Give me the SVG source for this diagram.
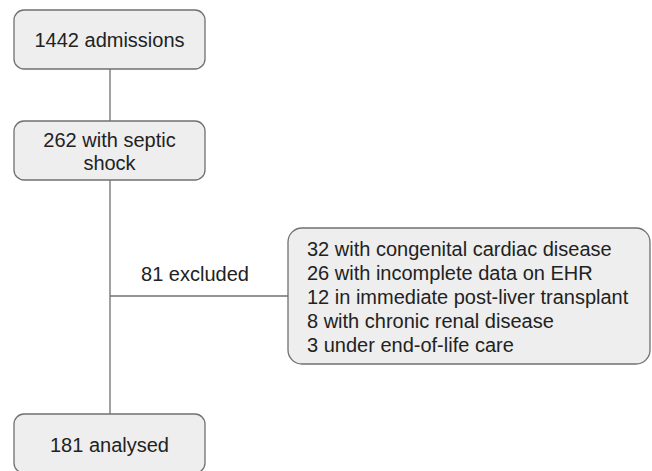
<svg xmlns="http://www.w3.org/2000/svg" width="652" height="471" viewBox="0 0 652 471">
<style>
.box{fill:#eeeeee;stroke:#707070;stroke-width:1.3}
.t{font-family:"Liberation Sans",Arial,sans-serif;font-size:20px;fill:#222}
.c{text-anchor:middle}
.ln{stroke:#707070;stroke-width:1.3;fill:none}
</style>
<rect width="652" height="471" fill="#ffffff"/>
<g id="connectors">
<line class="ln" x1="110" y1="69" x2="110" y2="121"/>
<line class="ln" x1="110" y1="180" x2="110" y2="414"/>
<line class="ln" x1="110" y1="296" x2="288" y2="296"/>
<text class="t c" x="195" y="281">81 excluded</text>
</g>
<g id="n1">
<rect class="box" x="14" y="10" width="191" height="59" rx="10"/>
<text class="t c" x="109.5" y="47">1442 admissions</text>
</g>
<g id="n2">
<rect class="box" x="14" y="121" width="191" height="59" rx="10"/>
<text class="t c" x="109.5" y="147">262 with septic</text>
<text class="t c" x="109.5" y="170">shock</text>
</g>
<g id="n3">
<rect class="box" x="288" y="228" width="362" height="136" rx="14"/>
<text class="t" x="307" y="256">32 with congenital cardiac disease</text>
<text class="t" x="307" y="280">26 with incomplete data on EHR</text>
<text class="t" x="307" y="304">12 in immediate post-liver transplant</text>
<text class="t" x="307" y="328">8 with chronic renal disease</text>
<text class="t" x="307" y="352">3 under end-of-life care</text>
</g>
<g id="n4">
<rect class="box" x="14" y="414" width="191" height="59" rx="10"/>
<text class="t c" x="109.5" y="452">181 analysed</text>
</g>
</svg>
